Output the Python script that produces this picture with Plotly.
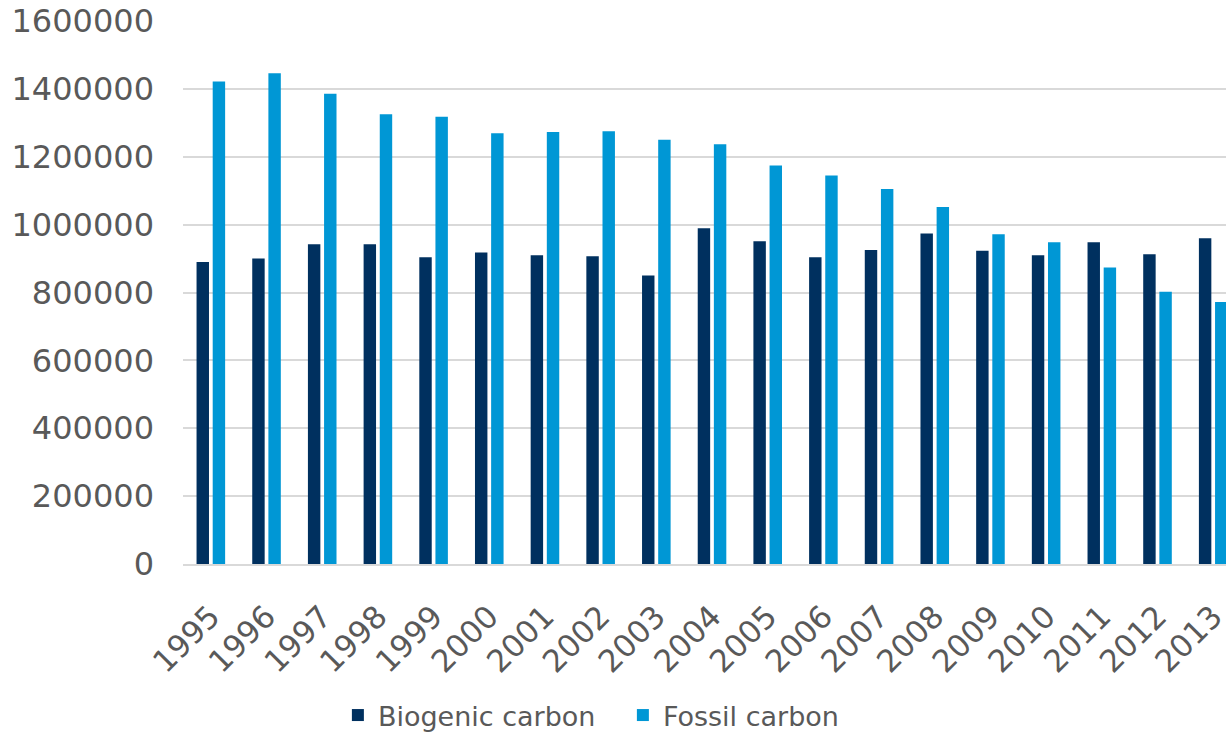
import plotly.graph_objects as go

# Annual carbon totals by source
years = ["1995", "1996", "1997", "1998", "1999", "2000", "2001", "2002", "2003", "2004",
         "2005", "2006", "2007", "2008", "2009", "2010", "2011", "2012", "2013"]
biogenic = [890000, 900000, 942000, 942000, 904000, 918000, 910000, 907000, 850000, 989000,
            951000, 904000, 925000, 974000, 923000, 910000, 948000, 913000, 960000]
fossil = [1422000, 1446000, 1386000, 1325000, 1318000, 1269000, 1273000, 1275000, 1250000, 1237000,
          1174000, 1145000, 1105000, 1052000, 972000, 948000, 874000, 802000, 772000]
y_ticks = [0, 200000, 400000, 600000, 800000, 1000000, 1200000, 1400000, 1600000]

TEXT = "#595959"
FONT = "DejaVu Sans"

fig = go.Figure()
fig.add_trace(go.Bar(x=years, y=biogenic, name="Biogenic carbon",
                     marker=dict(color="#00305F", line=dict(width=0))))
fig.add_trace(go.Bar(x=years, y=fossil, name="Fossil carbon",
                     marker=dict(color="#0097D5", line=dict(width=0))))

fig.update_layout(
    width=1226, height=732,
    margin=dict(l=183, r=0, t=21, b=168, pad=0, autoexpand=False),
    paper_bgcolor="white", plot_bgcolor="white",
    barmode="group", bargap=0.42, bargroupgap=0.23,
    font=dict(family=FONT, color=TEXT),
    showlegend=True,
    legend=dict(orientation="h", x=0.1485, xanchor="left", y=-0.279, yanchor="middle",
                font=dict(size=27, color=TEXT, family=FONT),
                entrywidth=240, entrywidthmode="pixels",
                bgcolor="rgba(0,0,0,0)"),
)
fig.update_xaxes(
    type="category", range=[-0.5, 18.23], automargin=False,
    tickangle=-45, tickfont=dict(size=31, color=TEXT, family=FONT),
    showgrid=False, showline=True, linecolor="#D9D9D9", linewidth=2,
    ticks="", ticklabelstandoff=20, zeroline=False, fixedrange=True,
)
fig.update_yaxes(
    range=[0, 1600000], tickvals=y_ticks, ticktext=[str(v) for v in y_ticks],
    automargin=False,
    tickfont=dict(size=32, color=TEXT, family=FONT),
    showgrid=True, gridcolor="#D9D9D9", gridwidth=2,
    showline=False, zeroline=False, ticks="", ticklabelstandoff=28,
    fixedrange=True,
)

fig.write_html("out.html")
